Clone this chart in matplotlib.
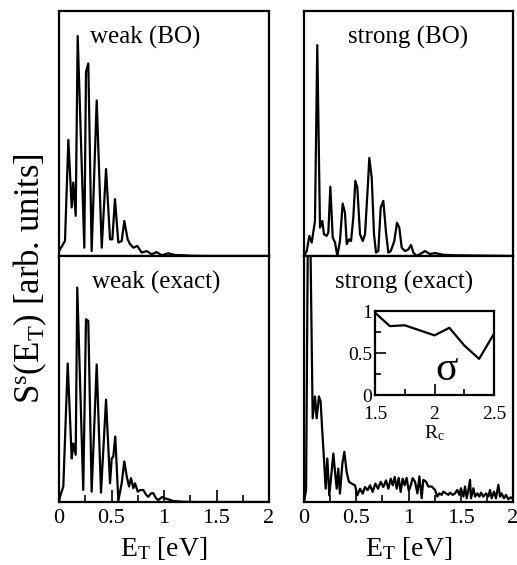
import matplotlib
matplotlib.use("Agg")
import matplotlib.pyplot as plt
from matplotlib.ticker import MultipleLocator, FuncFormatter

plt.rcParams["font.family"] = ["Liberation Serif", "DejaVu Serif"]
plt.rcParams["mathtext.fontset"] = "custom"
plt.rcParams["mathtext.rm"] = "Liberation Serif"
plt.rcParams["mathtext.it"] = "Liberation Serif:italic"

# spectra (E in eV, S in arbitrary units, 0..1 of panel height)
weak_bo_E = [0.0, 0.01, 0.057, 0.089, 0.121, 0.136, 0.159, 0.178, 0.241, 0.257, 0.279,
             0.311, 0.359, 0.407, 0.448, 0.486, 0.508, 0.533, 0.565, 0.597, 0.622,
             0.654, 0.676, 0.708, 0.746, 0.787, 0.835, 0.883, 0.93, 0.978, 1.041,
             1.105, 1.184, 1.26, 1.374, 2.0]
weak_bo_S = [0.02, 0.027, 0.061, 0.474, 0.198, 0.30, 0.164, 0.898, 0.034, 0.751, 0.786,
             0.02, 0.635, 0.034, 0.355, 0.068, 0.068, 0.232, 0.055, 0.061, 0.143,
             0.068, 0.049, 0.034, 0.041, 0.014, 0.02, 0.007, 0.016, 0.003, 0.011,
             0.004, 0.003, 0.001, 0.0, 0.0]

strong_bo_E = [0.0, 0.026, 0.051, 0.074, 0.105, 0.127, 0.153, 0.175, 0.191, 0.217, 0.233,
               0.252, 0.275, 0.297, 0.319, 0.344, 0.37, 0.392, 0.409, 0.431, 0.45,
               0.472, 0.491, 0.51, 0.536, 0.562, 0.584, 0.61, 0.625, 0.648, 0.67,
               0.689, 0.711, 0.734, 0.759, 0.785, 0.807, 0.83, 0.864, 0.89, 0.912,
               0.935, 0.967, 0.999, 1.024, 1.046, 1.078, 1.158, 1.206, 1.254, 1.333,
               1.43, 2.0]
strong_bo_S = [0.0, 0.02, 0.082, 0.055, 0.143, 0.861, 0.116, 0.143, 0.089, 0.082, 0.096,
               0.283, 0.075, 0.055, 0.0, 0.061, 0.214, 0.177, 0.048, 0.068, 0.061,
               0.157, 0.307, 0.28, 0.089, 0.061, 0.089, 0.28, 0.40, 0.32, 0.089,
               0.014, 0.02, 0.198, 0.225, 0.096, 0.014, 0.02, 0.061, 0.136, 0.116,
               0.034, 0.02, 0.027, 0.045, 0.014, 0.0, 0.02, 0.008, 0.012, 0.005,
               0.003, 0.0]

weak_ex_E = [0.0, 0.01, 0.041, 0.083, 0.121, 0.136, 0.159, 0.174, 0.231, 0.257, 0.279,
             0.311, 0.359, 0.40, 0.448, 0.486, 0.502, 0.517, 0.536, 0.565, 0.597,
             0.622, 0.645, 0.667, 0.686, 0.708, 0.724, 0.75, 0.771, 0.803, 0.829,
             0.85, 0.876, 0.898, 0.924, 0.946, 0.981, 1.01, 1.089, 1.184, 1.3, 2.0]
weak_ex_S = [0.0, 0.022, 0.063, 0.563, 0.177, 0.238, 0.192, 0.872, 0.049, 0.743, 0.736,
             0.042, 0.559, 0.038, 0.416, 0.076, 0.177, 0.184, 0.266, 0.005, 0.076,
             0.165, 0.104, 0.063, 0.097, 0.056, 0.076, 0.042, 0.048, 0.049, 0.03,
             0.021, 0.035, 0.036, 0.015, 0.008, 0.02, 0.015, 0.004, 0.001, 0.0, 0.0]

strong_ex_E = [0.0, 0.02, 0.045, 0.083, 0.105, 0.121, 0.143, 0.159, 0.175, 0.191, 0.207,
               0.223, 0.242, 0.261, 0.281, 0.297, 0.313, 0.328, 0.344, 0.367, 0.386,
               0.408, 0.43, 0.456, 0.488, 0.51, 0.536, 0.561, 0.584, 0.609, 0.632,
               0.657, 0.683, 0.708, 0.734, 0.759, 0.785, 0.807, 0.83, 0.849, 0.868,
               0.887, 0.906, 0.925, 0.944, 0.963, 0.982, 1.002, 1.014, 1.04, 1.062,
               1.085, 1.104, 1.126, 1.142, 1.167, 1.19, 1.222, 1.254, 1.276, 1.295,
               1.318, 1.333, 1.359, 1.381, 1.397, 1.423, 1.445, 1.467, 1.486, 1.502,
               1.525, 1.541, 1.557, 1.573, 1.589, 1.598, 1.621, 1.637, 1.659, 1.678,
               1.694, 1.716, 1.742, 1.764, 1.78, 1.796, 1.818, 1.837, 1.86, 1.876,
               1.891, 1.914, 1.933, 1.955, 1.978, 2.003]
strong_ex_S = [0.0, 0.05, 1.6, 0.34, 0.429, 0.34, 0.429, 0.408, 0.286, 0.177, 0.054,
               0.177, 0.027, 0.109, 0.197, 0.122, 0.054, 0.136, 0.034, 0.156, 0.204,
               0.122, 0.082, 0.075, 0.068, 0.027, 0.054, 0.034, 0.061, 0.048, 0.068,
               0.041, 0.075, 0.054, 0.082, 0.061, 0.088, 0.054, 0.095, 0.068, 0.102,
               0.054, 0.098, 0.041, 0.095, 0.068, 0.098, 0.048, 0.056, 0.097, 0.083,
               0.035, 0.104, 0.015, 0.09, 0.083, 0.063, 0.063, 0.049, 0.022, 0.035,
               0.029, 0.042, 0.035, 0.029, 0.038, 0.029, 0.035, 0.049, 0.029, 0.056,
               0.022, 0.063, 0.015, 0.049, 0.09, 0.015, 0.056, 0.022, 0.035, 0.022,
               0.038, 0.022, 0.035, 0.022, 0.049, 0.015, 0.042, 0.015, 0.07, 0.022,
               0.035, 0.015, 0.029, 0.011, 0.019, 0.011]

# inset: sigma vs R_c
Rc = [1.5, 1.625, 1.75, 2.0, 2.125, 2.25, 2.375, 2.5]
sigma = [0.98, 0.82, 0.83, 0.71, 0.80, 0.59, 0.43, 0.73]

panels = [
    (weak_bo_E, weak_bo_S, "weak (BO)", 0.148),
    (strong_bo_E, strong_bo_S, "strong (BO)", 0.21),
    (weak_ex_E, weak_ex_S, "weak (exact)", 0.157),
    (strong_ex_E, strong_ex_S, "strong (exact)", 0.148),
]

W, H = 517, 565
fig = plt.figure(figsize=(W / 100, H / 100), dpi=100)

def px_axes(x0, x1, y0, y1):
    return fig.add_axes([x0 / W, 1 - y1 / H, (x1 - x0) / W, (y1 - y0) / H])

boxes = [(59, 269, 11, 256), (304, 513, 11, 256),
         (59, 269, 256, 502), (304, 513, 256, 502)]
fmt = FuncFormatter(lambda v, p: "%g" % v)

for i, ((E, S, label, tx), box) in enumerate(zip(panels, boxes)):
    ax = px_axes(*box)
    ax.plot(E, S, color="black", lw=1.6)
    ax.set_xlim(0, 2)
    ax.set_ylim(0, 1)
    ax.set_yticks([])
    for s in ax.spines.values():
        s.set_linewidth(1.6)
    ax.text(tx, 0.893, label, transform=ax.transAxes, fontsize=18,
            va="center", ha="left")
    if i < 2:
        ax.set_xticks([])
    else:
        ax.xaxis.set_major_locator(MultipleLocator(0.5))
        ax.xaxis.set_minor_locator(MultipleLocator(0.25))
        ax.xaxis.set_major_formatter(fmt)
        ax.tick_params(axis="x", which="both", direction="in", width=1.2,
                       labelsize=16, pad=5)
        ax.tick_params(axis="x", which="major", length=9)
        ax.tick_params(axis="x", which="minor", length=5)
        ax.set_xlabel(r"E$_\mathrm{T}$ [eV]", fontsize=20, labelpad=5)

fig.text(30 / W, 1 - 279 / H, r"S$^\mathrm{s}$(E$_\mathrm{T}$) [arb. units]",
         rotation=90, fontsize=25, ha="center", va="center")

# inset
ins = px_axes(375, 494, 311, 395)
ins.plot(Rc, sigma, color="black", lw=1.6)
ins.set_xlim(1.5, 2.5)
ins.set_ylim(0, 1)
ins.set_xticks([1.5, 2.0, 2.5])
ins.set_yticks([0, 0.5, 1])
ins.xaxis.set_minor_locator(MultipleLocator(0.25))
ins.yaxis.set_minor_locator(MultipleLocator(0.25))
ins.xaxis.set_major_formatter(fmt)
ins.yaxis.set_major_formatter(fmt)
ins.tick_params(which="both", direction="in", labelsize=14, width=1.2)
ins.tick_params(axis="x", pad=8)
ins.tick_params(axis="y", pad=2)
ins.tick_params(which="major", length=8)
ins.tick_params(which="minor", length=4)
for s in ins.spines.values():
    s.set_linewidth(1.6)
ins.set_xlabel(r"R$_\mathrm{c}$", fontsize=14, labelpad=0)
ins.text(0.6, 0.3, "σ", transform=ins.transAxes, fontsize=30,
         ha="center", va="center")

fig.savefig("out.png", dpi=100)
